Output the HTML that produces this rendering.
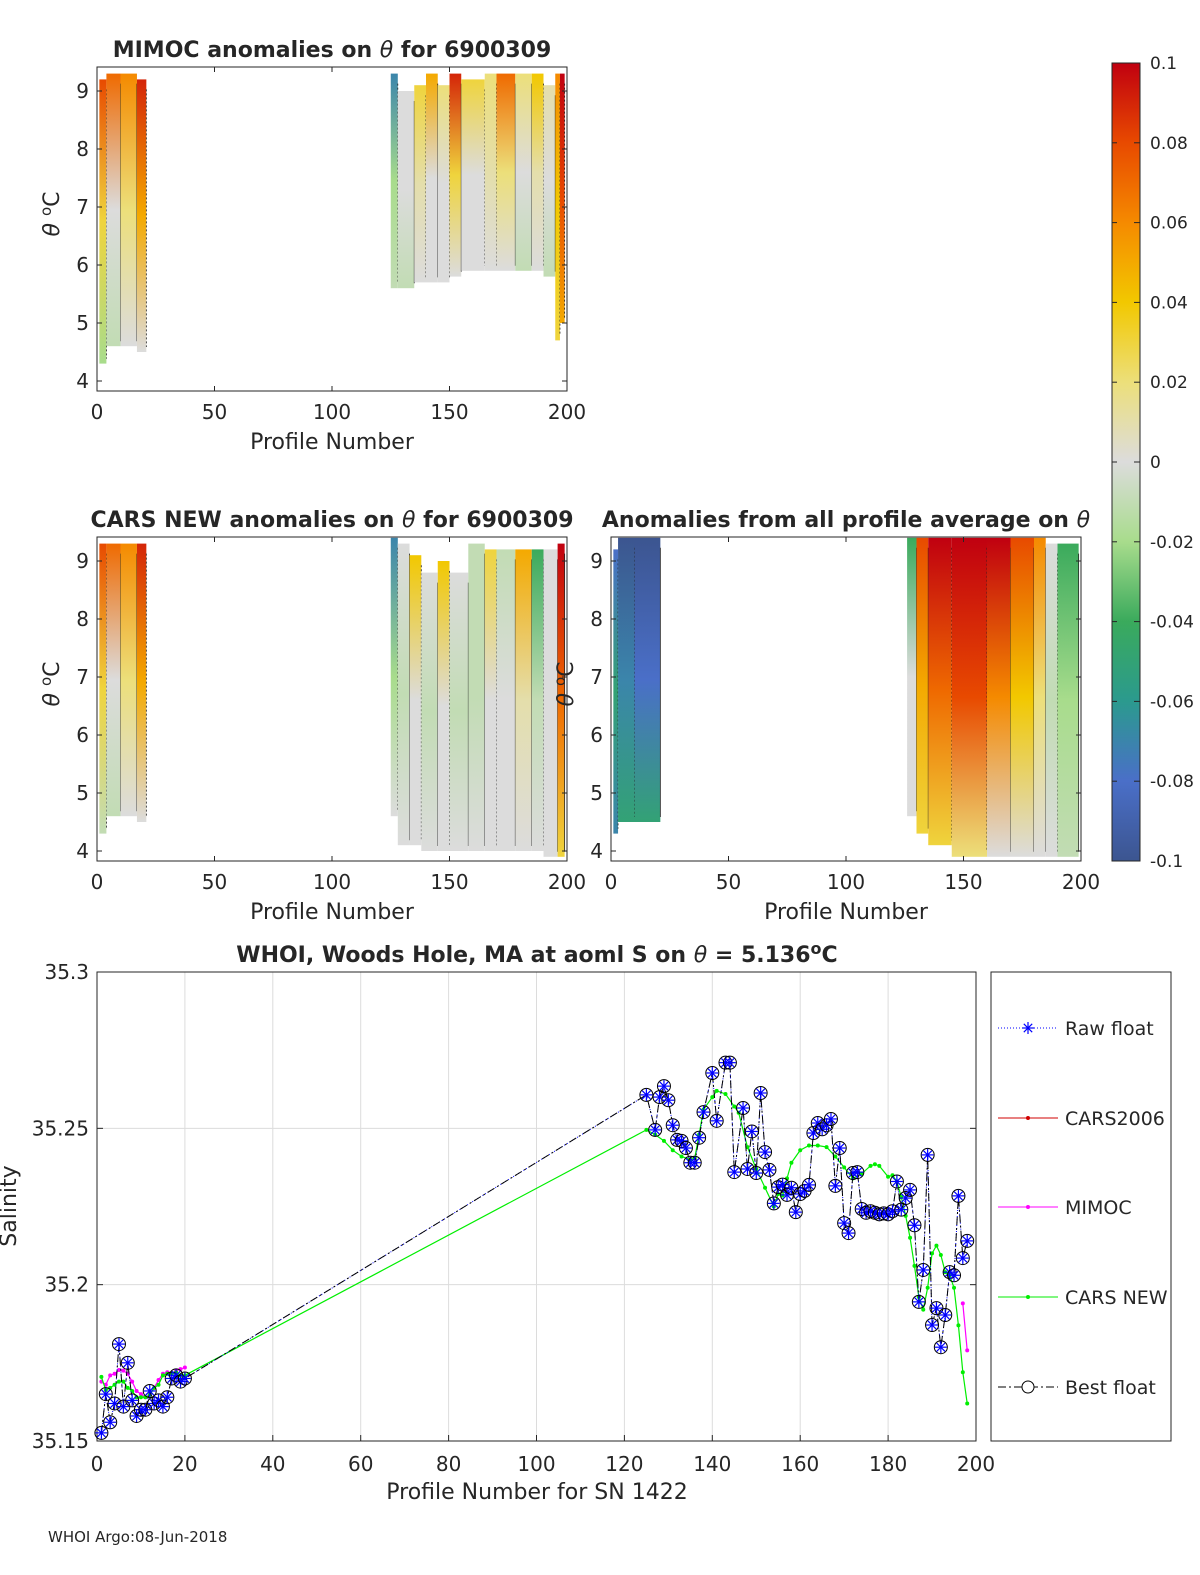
<!DOCTYPE html>
<html><head><meta charset="utf-8"><style>
html,body{margin:0;padding:0;background:#fff;overflow:hidden;width:1200px;height:1575px}
svg{display:block}
svg text{font-family:"DejaVu Sans","Liberation Sans",sans-serif;fill:#262626}
</style></head><body>
<svg id="s" width="1200" height="1575" viewBox="0 0 1200 1575" xmlns="http://www.w3.org/2000/svg">
<defs>
<linearGradient id="cbg" x1="0" y1="1" x2="0" y2="0">
<stop offset="0" stop-color="#3c5590"/><stop offset="0.1" stop-color="#4a6fc8"/><stop offset="0.2" stop-color="#2b9a8e"/><stop offset="0.3" stop-color="#3aaa5c"/><stop offset="0.4" stop-color="#a8dc8c"/><stop offset="0.5" stop-color="#dcdcdc"/><stop offset="0.6" stop-color="#ecdf7a"/><stop offset="0.7" stop-color="#f2c800"/><stop offset="0.8" stop-color="#f58a00"/><stop offset="0.9" stop-color="#e84a00"/><stop offset="1" stop-color="#c00010"/>
</linearGradient>
</defs>
<g id="panels"></g>
<g id="bottom"></g>
<text x="48" y="1542" font-size="15">WHOI Argo:08-Jun-2018</text>
</svg>
<script>
const NS="http://www.w3.org/2000/svg";
const S=document.getElementById('s');
function el(t,a,p){const e=document.createElementNS(NS,t);for(const k in a)e.setAttribute(k,a[k]);(p||S).appendChild(e);return e;}
// ---- heatmap data: [p0,p1,topAnom,midAnom,botAnom,thetaMin,thetaMax]
const mimocSegs=[[1,4,0.08,0.03,-0.02,4.3,9.2],[4,10,0.07,0.0,-0.01,4.6,9.3],[10,17,0.06,0.02,0.0,4.6,9.3],[17,21,0.09,0.05,0.0,4.5,9.2],
[125,128,-0.07,-0.02,-0.01,5.6,9.3],[128,135,0.0,0.0,-0.01,5.6,9.0],[135,140,0.03,0.01,0.0,5.7,9.1],[140,145,0.05,0.0,0.0,5.7,9.3],[145,150,0.02,0.0,0.0,5.7,9.1],[150,155,0.09,0.03,0.0,5.8,9.3],[155,165,0.03,0.0,0.0,5.9,9.2],[165,170,0.02,0.01,0.0,5.9,9.3],[170,178,0.07,0.02,0.0,5.9,9.3],[178,185,0.02,0.0,-0.01,5.9,9.3],[185,190,0.04,0.01,0.0,5.9,9.3],[190,195,0.01,0.0,-0.01,5.8,9.1],[195,197,0.06,0.04,0.03,4.7,9.3],[197,199,0.1,0.08,0.05,5.0,9.3]];
const carsSegs=[[1,4,0.08,0.03,-0.01,4.3,9.3],[4,10,0.07,0.0,-0.01,4.6,9.3],[10,17,0.06,0.02,0.0,4.6,9.3],[17,21,0.09,0.05,0.0,4.5,9.3],
[125,128,-0.07,-0.02,0,4.6,9.4],[128,133,0.0,-0.01,0,4.1,9.3],[133,138,0.04,0.0,0,4.1,9.1],[138,145,0.0,-0.01,0,4.0,8.8],[145,150,0.04,0.0,0,4.0,9.0],[150,158,0.0,-0.01,0,4.0,8.8],[158,165,-0.01,-0.01,0,4.0,9.3],[165,170,0.03,0.0,0,4.0,9.2],[170,178,-0.01,0,0,4.0,9.2],[178,185,0.05,0.01,0,4.0,9.2],[185,190,-0.04,-0.01,0,4.0,9.2],[190,196,0.0,0.0,0,3.9,9.2],[196,199,0.1,0.07,0.03,3.9,9.3]];
const avgSegs=[[1,3,-0.08,-0.05,-0.07,4.3,9.2],[3,10,-0.1,-0.07,-0.05,4.5,9.4],[10,21,-0.1,-0.08,-0.05,4.5,9.4],
[126,130,-0.04,0.0,0.0,4.6,9.4],[130,135,0.08,0.05,0.03,4.3,9.4],[135,145,0.1,0.07,0.03,4.1,9.4],[145,160,0.1,0.08,0.02,3.9,9.4],[160,170,0.1,0.06,0.0,3.9,9.4],[170,180,0.08,0.04,0.0,3.9,9.4],[180,185,0.06,0.02,0.0,3.9,9.4],[185,190,0.0,-0.01,0.0,3.9,9.3],[190,199,-0.04,-0.02,-0.01,3.9,9.3]];
const xTicksTop=[0,50,100,150,200];
const yTicksTop=[4,5,6,7,8,9];
const cbTicks=[0.1,0.08,0.06,0.04,0.02,0,-0.02,-0.04,-0.06,-0.08,-0.1];
const cmapStops=[[-0.1,[60,85,144]],[-0.08,[74,111,200]],[-0.06,[43,154,142]],[-0.04,[58,170,92]],[-0.02,[168,220,140]],[0,[220,220,220]],[0.02,[236,223,122]],[0.04,[242,200,0]],[0.06,[245,138,0]],[0.08,[232,74,0]],[0.1,[192,0,16]]];
function cmap(v){v=Math.max(-0.1,Math.min(0.1,v));for(let i=0;i<cmapStops.length-1;i++){const a=cmapStops[i],b=cmapStops[i+1];if(v<=b[0]){const t=(v-a[0])/(b[0]-a[0]);return 'rgb('+a[1].map((c,j)=>Math.round(c+(b[1][j]-c)*t)).join(',')+')';}}return 'rgb(192,0,16)';}
let gid=0;
function panel(ox,oy,title,segs,showYLabel,nm){
 const W=470,H=324,g=el('g',{},document.getElementById('panels'));
 const xs=p=>ox+p/200*W, ys=t=>oy+24-(t-9)*58;
 const defs=el('defs',{},g);
 segs.forEach(s=>{
  const id='g'+(gid++);const lg=el('linearGradient',{id:id,x1:0,y1:0,x2:0,y2:1},defs);
  el('stop',{offset:0,'stop-color':cmap(s[2])},lg);el('stop',{offset:0.5,'stop-color':cmap(s[3])},lg);el('stop',{offset:1,'stop-color':cmap(s[4])},lg);
  const r=el('rect',{x:xs(s[0]),y:ys(s[6]),width:xs(s[1])-xs(s[0]),height:ys(s[5])-ys(s[6]),fill:'url(#'+id+')'},g);
  
  
  const ln=el('line',{x1:xs(s[1]),x2:xs(s[1]),y1:ys(s[6])+10,y2:ys(s[5])-5,stroke:'#222','stroke-width':0.8,'stroke-dasharray':(s[0]%2?'2,2':'none')},g);
  
  
 });
 el('rect',{x:ox,y:oy,width:W,height:H,fill:'none',stroke:'#262626','stroke-width':1},g);
 xTicksTop.forEach(v=>{el('line',{x1:xs(v),x2:xs(v),y1:oy+H,y2:oy+H-5,stroke:'#262626'},g);el('line',{x1:xs(v),x2:xs(v),y1:oy,y2:oy+5,stroke:'#262626'},g);
  const t=el('text',{x:xs(v),y:oy+H+28,'font-size':20,'text-anchor':'middle'},g);t.textContent=v;});
 yTicksTop.forEach(v=>{el('line',{x1:ox,x2:ox+5,y1:ys(v),y2:ys(v),stroke:'#262626'},g);el('line',{x1:ox+W,x2:ox+W-5,y1:ys(v),y2:ys(v),stroke:'#262626'},g);
  const t=el('text',{x:ox-8,y:ys(v)+7,'font-size':20,'text-anchor':'end'},g);t.textContent=v;});
 const xl=el('text',{x:ox+W/2,y:oy+H+58,'font-size':22,'text-anchor':'middle'},g);xl.textContent='Profile Number';
 if(showYLabel){const yl=el('text',{x:0,y:0,'font-size':22,'text-anchor':'middle',transform:'translate('+(ox-38)+','+(oy+H/2-15)+') rotate(-90)'},g);yl.innerHTML='<tspan font-style="italic">θ</tspan> <tspan dy="-8" font-size="15">o</tspan><tspan dy="8">C</tspan>';}
 const tt=el('text',{x:ox+W/2,y:oy-10,'font-size':22,'font-weight':'bold','text-anchor':'middle',fill:'#000'},g);tt.innerHTML=title;
}
panel(97,67,'MIMOC anomalies on <tspan font-style="italic" font-weight="normal">θ</tspan>  for 6900309',mimocSegs,true,'mimoc-panel');
panel(97,537,'CARS NEW anomalies on <tspan font-style="italic" font-weight="normal">θ</tspan> for 6900309',carsSegs,true,'cars-new-panel');
panel(611,537,'Anomalies from all profile average on <tspan font-style="italic" font-weight="normal">θ</tspan>',avgSegs,true,'average-panel');
// colorbar
(function(){const g=el('g',{});
 el('rect',{x:1112,y:63,width:28,height:798,fill:'url(#cbg)',stroke:'#262626'},g);
 cbTicks.forEach(v=>{const y=63+(0.1-v)/0.2*798;el('line',{x1:1134,x2:1140,y1:y,y2:y,stroke:'#262626'},g);el('line',{x1:1112,x2:1117,y1:y,y2:y,stroke:'#262626'},g);
  const t=el('text',{x:1150,y:y+6,'font-size':17},g);t.textContent=v;});})();
// ---- bottom chart data
const bestX=[1,2,3,4,5,6,7,8,9,10,11,12,13,14,15,16,17,18,19,20,125,127,128,129,130,131,132,133,134,135,136,137,138,140,141,143,144,145,147,148,149,150,151,152,153,154,155,156,157,158,159,160,161,162,163,164,165,166,167,168,169,170,171,172,173,174,175,176,177,178,179,180,181,182,183,184,185,186,187,188,189,190,191,192,193,194,195,196,197,198];
const bestY=[35.1526,35.165,35.156,35.162,35.181,35.161,35.175,35.163,35.158,35.160,35.160,35.166,35.162,35.163,35.161,35.164,35.170,35.171,35.169,35.170,35.2607,35.2495,35.260,35.2635,35.259,35.251,35.2463,35.246,35.2437,35.239,35.239,35.247,35.2552,35.2677,35.2524,35.271,35.271,35.236,35.2565,35.237,35.249,35.2357,35.2613,35.2424,35.2367,35.226,35.2312,35.232,35.2287,35.231,35.2232,35.229,35.230,35.2319,35.2485,35.2517,35.2497,35.251,35.253,35.2316,35.2437,35.2197,35.2165,35.2357,35.236,35.2242,35.223,35.2235,35.223,35.2225,35.2228,35.2225,35.2235,35.233,35.224,35.2277,35.2303,35.219,35.1945,35.2047,35.2415,35.1871,35.1925,35.180,35.1903,35.204,35.203,35.2284,35.2085,35.214,35.211];
const carsX=[1,2,3,4,5,6,7,8,9,10,11,12,13,14,15,16,17,18,19,20,125,127,129,131,133,135,136,137,138,140,141,143,145,146,148,150,152,154,155,156,157,158,160,162,164,166,168,170,172,174,176,177,178,180,181,182,183,184,185,186,187,188,189,190,191,192,193,194,195,196,197,198];
const carsY=[35.1705,35.1663,35.167,35.168,35.169,35.169,35.167,35.166,35.164,35.164,35.164,35.1647,35.167,35.168,35.171,35.1715,35.1715,35.172,35.171,35.171,35.2495,35.248,35.246,35.243,35.241,35.240,35.2405,35.248,35.256,35.260,35.262,35.261,35.257,35.255,35.244,35.237,35.231,35.225,35.229,35.2285,35.234,35.239,35.243,35.2445,35.2445,35.244,35.241,35.2375,35.234,35.2355,35.238,35.2385,35.238,35.2345,35.235,35.233,35.228,35.222,35.215,35.206,35.196,35.192,35.199,35.210,35.2125,35.2095,35.204,35.203,35.199,35.187,35.172,35.162];
const mimocX=[1,2,3,4,5,6,7,8,9,10,11,12,13,14,15,16,17,18,19,20,197,198];
const mimocY=[35.169,35.168,35.171,35.1715,35.1727,35.1725,35.1715,35.169,35.166,35.165,35.164,35.1647,35.167,35.1695,35.1715,35.172,35.1715,35.1725,35.173,35.1735,35.194,35.179];
const xTicksB=[0,20,40,60,80,100,120,140,160,180,200];
const yTicksB=[35.15,35.2,35.25,35.3];
(function(){
 const g=el('g',{},document.getElementById('bottom'));
 const X0=97,X1=976,Y0=1441,Y1=972;
 const xs=v=>X0+v/200*(X1-X0), ys=v=>Y0-(v-35.15)/0.15*(Y0-Y1);
 el('rect',{x:X0,y:Y1,width:X1-X0,height:Y0-Y1,fill:'#fff',stroke:'#262626'},g);
 xTicksB.forEach(v=>{el('line',{x1:xs(v),x2:xs(v),y1:Y1,y2:Y0,stroke:'#dcdcdc'},g);el('line',{x1:xs(v),x2:xs(v),y1:Y0,y2:Y0-6,stroke:'#262626'},g);
  const t=el('text',{x:xs(v),y:Y0+30,'font-size':20,'text-anchor':'middle'},g);t.textContent=v;});
 yTicksB.forEach(v=>{el('line',{x1:X0,x2:X1,y1:ys(v),y2:ys(v),stroke:'#dcdcdc'},g);el('line',{x1:X0,x2:X0+6,y1:ys(v),y2:ys(v),stroke:'#262626'},g);el('line',{x1:X1,x2:X1-6,y1:ys(v),y2:ys(v),stroke:'#262626'},g);
  const t=el('text',{x:X0-8,y:ys(v)+7,'font-size':20,'text-anchor':'end'},g);t.textContent=(v===35.2?'35.2':v===35.3?'35.3':v);});
 el('rect',{x:X0,y:Y1,width:X1-X0,height:Y0-Y1,fill:'none',stroke:'#262626'},g);
 const pts=(xa,ya)=>xa.map((x,i)=>xs(x)+','+ys(ya[i])).join(' ');
 const mm=el('polyline',{points:pts(mimocX.slice(0,20),mimocY.slice(0,20)),fill:'none',stroke:'#ff00ff','stroke-width':1.2},g);
 
 const mm2=el('polyline',{points:pts(mimocX.slice(20),mimocY.slice(20)),fill:'none',stroke:'#ff00ff','stroke-width':1.2},g);
 
 mimocX.forEach((x,i)=>{const c=el('circle',{cx:xs(x),cy:ys(mimocY[i]),r:2,fill:'#ff00ff'},g);});
 const cl=el('polyline',{points:pts(carsX,carsY),fill:'none',stroke:'#00ee00','stroke-width':1.2},g);
 
 carsX.forEach((x,i)=>{const c=el('circle',{cx:xs(x),cy:ys(carsY[i]),r:2,fill:'#00ee00'},g);});
 const rl=el('polyline',{points:pts(bestX,bestY),fill:'none',stroke:'#0000ff','stroke-width':1,'stroke-dasharray':'1,2'},g);
 
 const bl=el('polyline',{points:pts(bestX,bestY),fill:'none',stroke:'#000','stroke-width':1,'stroke-dasharray':'8,3,2,3'},g);
 
 bestX.forEach((x,i)=>{const cx=xs(x),cy=ys(bestY[i]);
  const m=el('g',{},g);
  el('circle',{cx:cx,cy:cy,r:6.5,fill:'none',stroke:'#000','stroke-width':1},m);
  [[0,6],[6,0],[4.2,4.2],[4.2,-4.2]].forEach(d=>el('line',{x1:cx-d[0],y1:cy-d[1],x2:cx+d[0],y2:cy+d[1],stroke:'#0000ff','stroke-width':1.2},m));
 });
 const tt=el('text',{x:537,y:962,'font-size':22,'font-weight':'bold','text-anchor':'middle',fill:'#000'},g);
 tt.innerHTML='WHOI, Woods Hole, MA at aoml S on <tspan font-style="italic" font-weight="normal">θ</tspan> = 5.136<tspan dy="-8" font-size="16">o</tspan><tspan dy="8">C</tspan>';
 const xl=el('text',{x:537,y:1499,'font-size':22,'text-anchor':'middle'},g);xl.textContent='Profile Number for SN 1422';
 const yl=el('text',{x:0,y:0,'font-size':22,'text-anchor':'middle',transform:'translate(16,1206) rotate(-90)'},g);yl.textContent='Salinity';
 const lg=el('g',{},g);
 el('rect',{x:991,y:972,width:180,height:469,fill:'#fff',stroke:'#262626'},lg);
 const items=[['Raw float','#0000ff','1,2','star',1028],['CARS2006','#d00000','none','dot',1118],['MIMOC','#ff00ff','none','dot',1207],['CARS NEW','#00ee00','none','dot',1297],['Best float','#000','8,3,2,3','circ',1387]];
 items.forEach(it=>{const y=it[4];
  const e=el('g',{},lg);
  el('line',{x1:998,x2:1058,y1:y,y2:y,stroke:it[1],'stroke-dasharray':it[2]},e);
  if(it[3]==='dot')el('circle',{cx:1028,cy:y,r:2,fill:it[1]},e);
  if(it[3]==='star')[[0,6],[6,0],[4.2,4.2],[4.2,-4.2]].forEach(d=>el('line',{x1:1028-d[0],y1:y-d[1],x2:1028+d[0],y2:y+d[1],stroke:'#0000ff','stroke-width':1.2},e));
  if(it[3]==='circ')el('circle',{cx:1028,cy:y,r:6,fill:'#fff',stroke:'#000'},e);
  const t=el('text',{x:1065,y:y+7,'font-size':19},e);t.textContent=it[0];});
})();
</script>
</body></html>
